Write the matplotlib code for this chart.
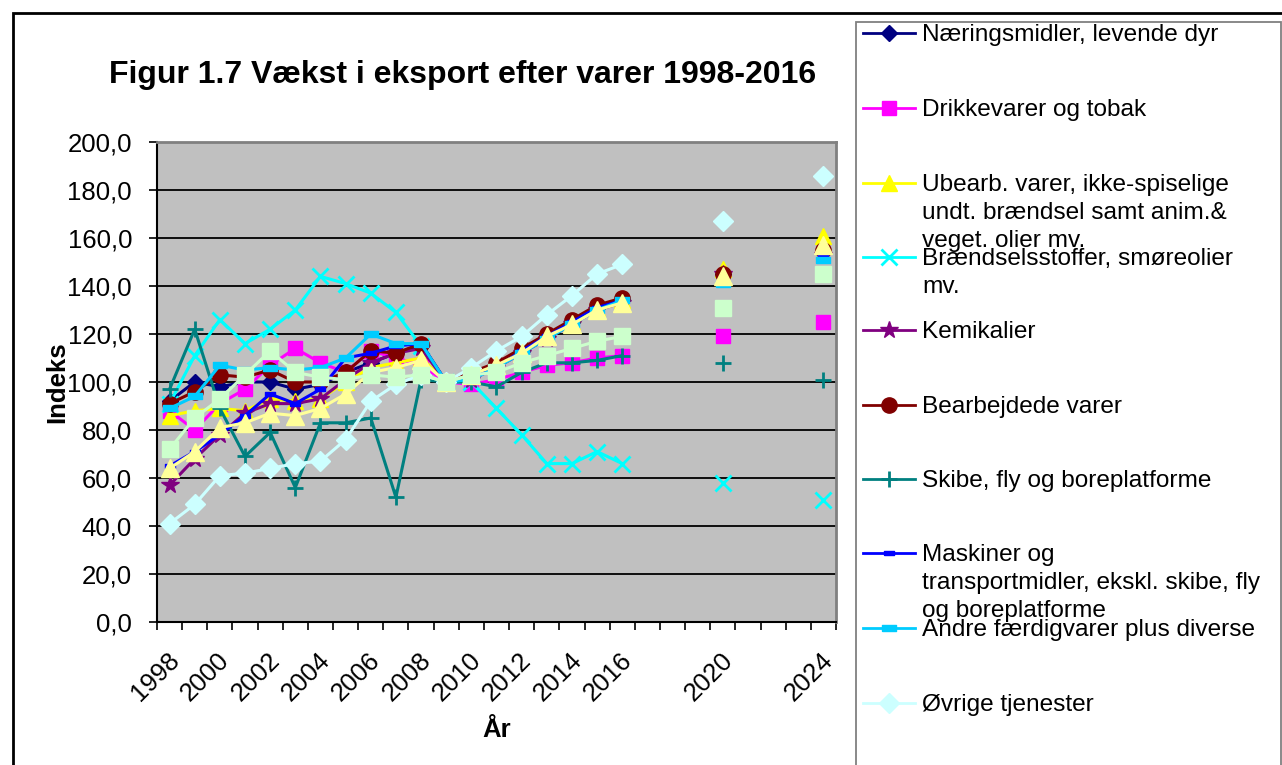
import numpy as np
import matplotlib
matplotlib.use("Agg")
import matplotlib.pyplot as plt
from matplotlib.lines import Line2D
from matplotlib.patches import Rectangle
from matplotlib.transforms import ScaledTranslation

plt.rcParams['font.family'] = ['Liberation Sans', 'DejaVu Sans']

# ---------------- data ----------------
years = list(range(1998, 2017)) + [2020, 2024]
tick_years = [1998, 2000, 2002, 2004, 2006, 2008, 2010, 2012, 2014, 2016, 2020, 2024]

naeringsmidler = [92, 100, 98, 100, 100, 97, 99, 104, 108, 112, 115, 100, 102, 107, 113, 119, 125, 131, 134, 145, 154]
drikkevarer    = [88, 80, 91, 97, 107, 114, 108, 104, 113, 110, 107, 100, 99, 101, 104, 107, 108, 110, 111, 119, 125]
ubearb         = [86, 88, 89, 88, 93, 92, 93, 100, 106, 108, 110, 100, 103, 107, 113, 119, 125, 131, 134, 147, 161]
braendsel      = [91, 111, 126, 116, 122, 130, 144, 141, 137, 129, 115, 100, 100, 89, 78, 66, 66, 71, 66, 58, 51]
kemikalier     = [57, 68, 78, 87, 91, 91, 93, 101, 108, 112, 114, 100, 101, 106, 112, 118, 124, 130, 133, 145, 153]
bearbejdede    = [91, 96, 103, 102, 105, 100, 100, 104, 113, 112, 116, 100, 104, 108, 114, 120, 126, 132, 135, 145, 155]
skibe          = [97, 122, 89, 69, 79, 56, 83, 83, 85, 52, 101, 100, 100, 98, 104, 108, 108, 109, 111, 108, 101]
maskiner       = [65, 71, 78, 86, 95, 91, 97, 110, 112, 115, 116, 100, 102, 106, 113, 119, 125, 131, 134, 142, 152]
andre          = [89, 94, 107, 105, 106, 105, 106, 110, 120, 116, 116, 100, 101, 106, 112, 118, 124, 130, 134, 141, 151]
tjenester      = [41, 49, 61, 62, 64, 66, 67, 76, 92, 99, 103, 100, 106, 113, 119, 128, 136, 145, 149, 167, 186]
serie_11       = [64, 71, 81, 83, 87, 86, 89, 95, 104, 106, 109, 100, 103, 107, 112, 119, 124, 130, 133, 144, 157]
serie_12       = [72, 85, 93, 103, 113, 104, 102, 101, 103, 102, 103, 100, 103, 104, 108, 111, 114, 117, 119, 131, 145]

labels = [
    "Næringsmidler, levende dyr",
    "Drikkevarer og tobak",
    "Ubearb. varer, ikke-spiselige\nundt. brændsel samt anim.&\nveget. olier mv.",
    "Brændselsstoffer, smøreolier\nmv.",
    "Kemikalier",
    "Bearbejdede varer",
    "Skibe, fly og boreplatforme",
    "Maskiner og\ntransportmidler, ekskl. skibe, fly\nog boreplatforme",
    "Andre færdigvarer plus diverse",
    "Øvrige tjenester",
]

dash_small = [(-1, -0.45), (1, -0.45), (1, 0.45), (-1, 0.45), (-1, -0.45)]
dash_big = [(-1, -0.4), (1, -0.4), (1, 0.4), (-1, 0.4), (-1, -0.4)]

styles = [
    dict(color='#000080', marker='D', ms=8),
    dict(color='#FF00FF', marker='s', ms=10),
    dict(color='#FFFF00', marker='^', ms=11),
    dict(color='#00FFFF', marker='x', ms=11, mew=2),
    dict(color='#800080', marker='*', ms=13),
    dict(color='#800000', marker='o', ms=11),
    dict(color='#008080', marker='+', ms=12, mew=2),
    dict(color='#0000FF', marker=dash_small, ms=7),
    dict(color='#00CCFF', marker=dash_big, ms=10),
    dict(color='#CCFFFF', marker='D', ms=10),
    dict(color='#FFFF99', marker='^', ms=13),
    dict(color='#CCFFCC', marker='s', ms=12),
]
series = [naeringsmidler, drikkevarer, ubearb, braendsel, kemikalier, bearbejdede,
          skibe, maskiner, andre, tjenester, serie_11, serie_12]

W, H = 1282, 765
fig = plt.figure(figsize=(W / 100, H / 100), dpi=100)

def fx(px):
    return px / W

def fy(py):
    return 1 - py / H

# outer chart border
fig.patches.append(Rectangle((fx(13), fy(800)), fx(1300) - fx(13), fy(13) - fy(800),
                             transform=fig.transFigure, fill=False, ec='black', lw=2))

ax = fig.add_axes([fx(157), fy(622), fx(836) - fx(157), fy(142) - fy(622)])
ax.set_facecolor('#C0C0C0')

all_years = np.arange(1998, 2025)
for vals, st in zip(series, styles):
    y = np.full(len(all_years), np.nan)
    for yr, v in zip(years, vals):
        y[yr - 1998] = v
    st = dict(st)
    c = st.pop('color')
    mk = st.pop('marker')
    ms = st.pop('ms')
    mew = st.pop('mew', 1)
    ax.plot(all_years, y, color=c, lw=2.2, marker=mk, ms=ms, mfc=c, mec=c, mew=mew, zorder=3)

ax.set_xlim(1997.5, 2024.5)
ax.set_ylim(0, 200)
ax.set_yticks(np.arange(0, 201, 20))
ax.set_yticklabels([f"{v:.1f}".replace('.', ',') for v in np.arange(0, 201, 20)], fontsize=18.5)
ax.yaxis.grid(True, color='black', lw=1.3)
ax.set_axisbelow(True)

ax.set_xticks(tick_years)
ax.set_xticklabels([str(t) for t in tick_years], fontsize=18.5, rotation=45,
                   ha='right', va='center', rotation_mode='anchor')
ax.set_xticks(np.arange(1997.5, 2025, 1), minor=True)
ax.tick_params(axis='x', which='major', length=0, pad=25)
ax.tick_params(axis='x', which='minor', length=6, width=1.2, direction='out')
ax.tick_params(axis='y', length=6, width=1.2, direction='out', pad=12)
shift = ScaledTranslation(0.06, 0, fig.dpi_scale_trans)
for lbl in ax.get_xticklabels():
    lbl.set_transform(lbl.get_transform() + shift)

for s in ['top', 'right']:
    ax.spines[s].set_color('#808080')
    ax.spines[s].set_linewidth(2)
for s in ['left', 'bottom']:
    ax.spines[s].set_color('black')
    ax.spines[s].set_linewidth(1.5)

ax.set_ylabel('Indeks', fontsize=18.5, fontweight='bold', labelpad=-1)
ax.set_xlabel('År', fontsize=18.5, fontweight='bold', labelpad=9)

fig.text(fx(463), fy(75), 'Figur 1.7 Vækst i eksport efter varer 1998-2016',
         fontsize=23, fontweight='bold', ha='center', va='center')

# legend (manual, overflowing text like the original)
fig.patches.append(Rectangle((fx(856), fy(800)), fx(1281) - fx(856), fy(22) - fy(800),
                             transform=fig.transFigure, fill=False, ec='#808080', lw=1.3))
entry_y = [33, 108, 183, 257, 330, 405, 479, 553, 628, 703]
for lab, st, py in zip(labels, styles[:10], entry_y):
    st = dict(st)
    c = st.pop('color')
    mk = st.pop('marker')
    ms = st.pop('ms')
    mew = st.pop('mew', 1)
    fig.add_artist(Line2D([fx(863), fx(915)], [fy(py), fy(py)], transform=fig.transFigure,
                          color=c, lw=2.0))
    fig.add_artist(Line2D([fx(889)], [fy(py)], transform=fig.transFigure,
                          color=c, marker=mk, ms=ms, mfc=c, mec=c, mew=mew, lw=0))
    for i, line in enumerate(lab.split('\n')):
        fig.text(fx(922), fy(py + 8 + 28 * i), line, fontsize=17.6, ha='left', va='baseline')

fig.savefig('out.png', dpi=100)
